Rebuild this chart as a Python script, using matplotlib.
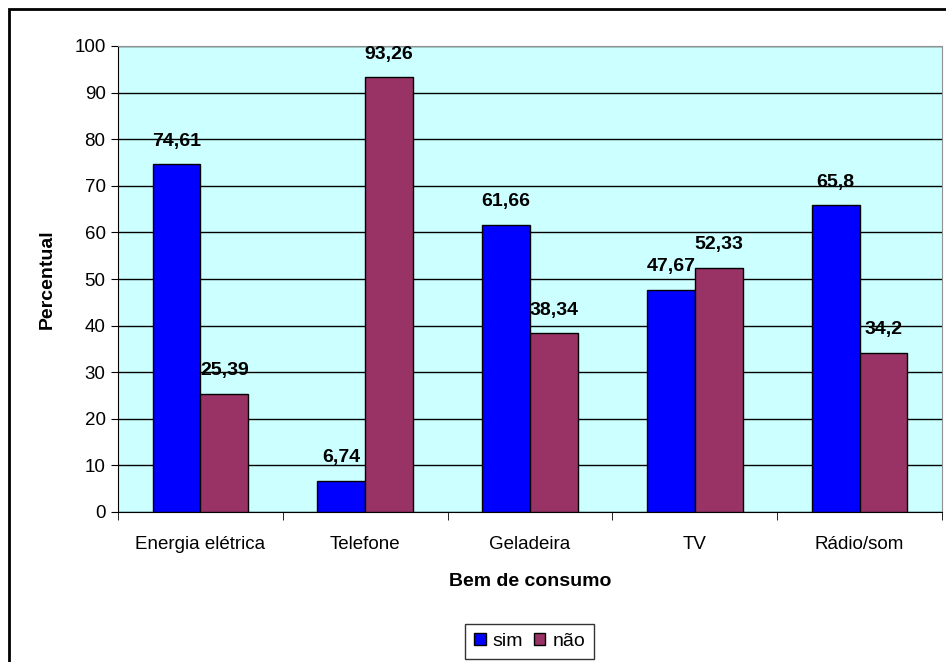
import matplotlib.pyplot as plt
import numpy as np
from matplotlib.patches import Rectangle

plt.rcParams['font.family'] = ['Liberation Sans', 'DejaVu Sans']

categorias = ['Energia elétrica', 'Telefone', 'Geladeira', 'TV', 'Rádio/som']
sim = [74.61, 6.74, 61.66, 47.67, 65.8]
nao = [25.39, 93.26, 38.34, 52.33, 34.2]
rotulos_sim = ['74,61', '6,74', '61,66', '47,67', '65,8']
rotulos_nao = ['25,39', '93,26', '38,34', '52,33', '34,2']

W, H = 946, 662
fig = plt.figure(figsize=(W / 100, H / 100), dpi=100)

# chart frame, running off the right and bottom edges
fig.patches.append(Rectangle((9 / W, -0.05), 1.1, 1 - 9 / H + 0.05,
                             transform=fig.transFigure, fill=False,
                             edgecolor='black', linewidth=2))

ax = fig.add_axes([118 / W, 1 - 512 / H, (942 - 118) / W, (512 - 46) / H])
ax.set_facecolor('#ccffff')

x = np.arange(len(categorias))
w = 0.29
ax.bar(x - w / 2, sim, w, color='#0000ff', edgecolor='black', linewidth=1, label='sim', zorder=3)
ax.bar(x + w / 2, nao, w, color='#993366', edgecolor='black', linewidth=1, label='não', zorder=3)

for i in range(len(categorias)):
    ax.text(x[i] - w / 2, sim[i] + 5.0, rotulos_sim[i], ha='center', va='center',
            fontsize=14, fontweight='bold', zorder=4)
    ax.text(x[i] + w / 2, nao[i] + 5.0, rotulos_nao[i], ha='center', va='center',
            fontsize=14, fontweight='bold', zorder=4)

ax.set_xlim(-0.5, len(categorias) - 0.5)
ax.set_ylim(0, 100)
ax.set_yticks(range(0, 101, 10))
ax.yaxis.grid(True, color='black', linewidth=1)
ax.set_axisbelow(True)

ax.set_xticks(x)
ax.set_xticklabels(categorias, fontsize=13.5)
ax.tick_params(axis='x', length=0, pad=17)
ax.set_xticks(np.arange(-0.5, len(categorias)), minor=True)
ax.tick_params(axis='x', which='minor', length=6, direction='out')
ax.tick_params(axis='y', length=5, labelsize=13.5, pad=4)

for s in ['top', 'right']:
    ax.spines[s].set_color('#909090')
ax.spines['left'].set_color('black')
ax.spines['bottom'].set_color('black')

ax.set_xlabel('Bem de consumo', fontsize=14, fontweight='bold', labelpad=15)
ax.set_ylabel('Percentual', fontsize=14, fontweight='bold', labelpad=13)

leg = ax.legend(loc='center', bbox_to_anchor=(529.5 / W, 1 - 641.5 / H),
                bbox_transform=fig.transFigure, ncol=2, fontsize=14,
                frameon=True, fancybox=False, edgecolor='black',
                handlelength=0.6, handleheight=0.6, handletextpad=0.35,
                columnspacing=0.55, borderpad=0.45, borderaxespad=0)
leg.get_frame().set_linewidth(1)

fig.savefig('out.png', dpi=100)
